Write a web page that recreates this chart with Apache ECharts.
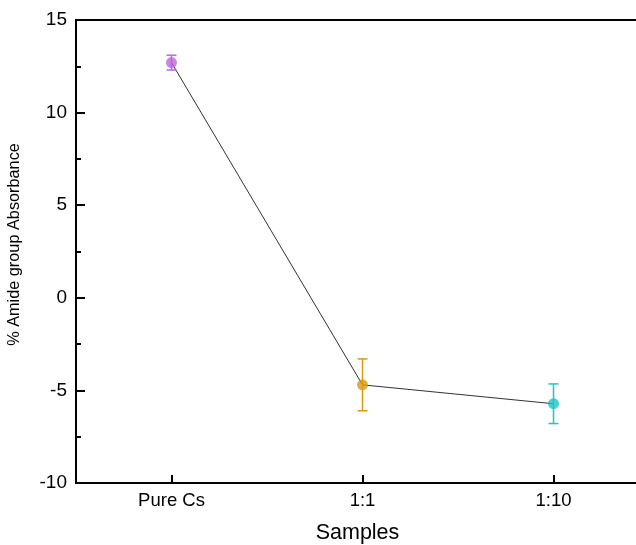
<!DOCTYPE html>
<html>
<head>
<meta charset="utf-8">
<script src="https://cdn.jsdelivr.net/npm/echarts@6/dist/echarts.min.js"></script>
<style>
html,body{margin:0;padding:0;background:#fff;}
#chart{width:636px;height:545px;}
</style>
</head>
<body>
<div id="chart"></div>
<script>
// Data
var categories = ['Pure Cs', '1:1', '1:10'];
var values = [12.7, -4.7, -5.72];
var errors = [0.4, 1.4, 1.07];
var yTicks = [-10, -5, 0, 5, 10, 15];

// Styles
var pointColors = ['#bb66dd', '#d89b14', '#1ec6c6'];
var font = 'Liberation Sans, Arial, sans-serif';

var chart = echarts.init(document.getElementById('chart'), null, {renderer: 'canvas'});

var errData = categories.map(function (c, i) {
  return [i, values[i] - errors[i], values[i] + errors[i]];
});
var pointData = categories.map(function (c, i) {
  return {value: [i, values[i]], itemStyle: {color: pointColors[i]}};
});

var option = {
  backgroundColor: '#fff',
  animation: false,
  grid: {
    left: 76, top: 20, width: 573, height: 463,
    outerBoundsMode: 'none',
    containLabel: false,
    show: true, borderColor: '#000', borderWidth: 2, backgroundColor: 'transparent'
  },
  xAxis: {
    type: 'category',
    data: categories,
    boundaryGap: true,
    name: 'Samples',
    nameLocation: 'middle',
    nameGap: 39,
    nameTextStyle: {fontSize: 21.5, color: '#000', fontFamily: font, padding: [0, 10, 0, 0]},
    axisLine: {show: true, onZero: false, lineStyle: {color: '#000', width: 2}},
    axisTick: {show: true, inside: true, alignWithLabel: true, length: 8, lineStyle: {color: '#000', width: 2}},
    axisLabel: {fontSize: 18.5, color: '#000', margin: 8, fontFamily: font},
    splitLine: {show: false}
  },
  yAxis: {
    type: 'value',
    min: yTicks[0],
    max: yTicks[yTicks.length - 1],
    interval: 5,
    name: '% Amide group Absorbance',
    nameLocation: 'middle',
    nameGap: 53,
    nameRotate: 90,
    nameTextStyle: {fontSize: 16.3, color: '#000', fontFamily: font, padding: [0, 0, 0, 14]},
    axisLine: {show: true, onZero: false, lineStyle: {color: '#000', width: 2}},
    axisTick: {show: true, inside: true, length: 9, lineStyle: {color: '#000', width: 2}},
    minorTick: {show: true, splitNumber: 2, length: 5, lineStyle: {color: '#000', width: 2}},
    axisLabel: {fontSize: 19, color: '#000', margin: 9, fontFamily: font},
    splitLine: {show: false},
    minorSplitLine: {show: false}
  },
  series: [
    {
      type: 'line',
      data: values,
      symbol: 'none',
      lineStyle: {color: '#333', width: 1},
      z: 2
    },
    {
      type: 'custom',
      data: errData,
      renderItem: function (params, api) {
        var i = api.value(0);
        var lo = api.coord([i, api.value(1)]);
        var hi = api.coord([i, api.value(2)]);
        var x = lo[0];
        var hw = 5;
        var col = pointColors[params.dataIndex];
        var style = {stroke: col, lineWidth: 1.5, fill: null};
        return {
          type: 'group',
          children: [
            {type: 'line', shape: {x1: x, y1: lo[1], x2: x, y2: hi[1]}, style: style},
            {type: 'line', shape: {x1: x - hw, y1: lo[1], x2: x + hw, y2: lo[1]}, style: style},
            {type: 'line', shape: {x1: x - hw, y1: hi[1], x2: x + hw, y2: hi[1]}, style: style}
          ]
        };
      },
      z: 3
    },
    {
      type: 'scatter',
      data: pointData,
      symbol: 'circle',
      symbolSize: 11,
      z: 4
    }
  ]
};
chart.setOption(option);
</script>
</body>
</html>
